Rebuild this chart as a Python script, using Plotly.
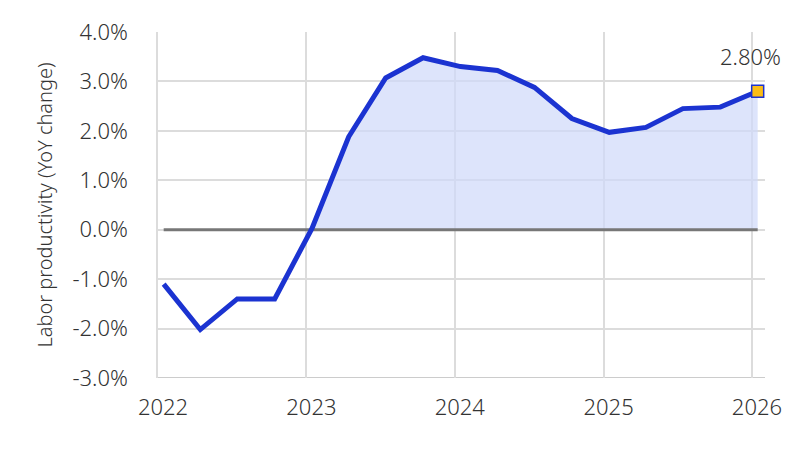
import plotly.graph_objects as go
import numpy as np

dates = ["2022-01-15", "2022-04-15", "2022-07-15", "2022-10-15",
         "2023-01-15", "2023-04-15", "2023-07-15", "2023-10-15",
         "2024-01-15", "2024-04-15", "2024-07-15", "2024-10-15",
         "2025-01-15", "2025-04-15", "2025-07-15", "2025-10-15",
         "2026-01-15"]
productivity = [-1.10, -2.02, -1.40, -1.40,
                0.03, 1.88, 3.07, 3.48,
                3.30, 3.22, 2.88, 2.25,
                1.97, 2.07, 2.45, 2.48,
                2.80]
tick_vals = ["2022-01-01", "2023-01-01", "2024-01-01", "2025-01-01", "2026-01-01"]
tick_text = ["2022", "2023", "2024", "2025", "2026"]
y_ticks = [-3, -2, -1, 0, 1, 2, 3, 4]
y_tick_text = ["-3.0%", "-2.0%", "-1.0%", "0.0%", "1.0%", "2.0%", "3.0%", "4.0%"]
y_title = "Labor productivity (YoY change)"
last_label = f"{productivity[-1]:.2f}%"

FONT = "Noto Sans"
TXT = "#333333"
BLUE = "#1b33d1"

fig = go.Figure()

# positive fill area
fig.add_trace(go.Scatter(
    x=dates, y=np.maximum(productivity, 0), mode="lines",
    line=dict(width=0), fill="tozeroy", fillcolor="rgba(208,217,250,0.72)",
    hoverinfo="skip", showlegend=False))

# zero line
fig.add_trace(go.Scatter(
    x=[dates[0], dates[-1]], y=[0, 0], mode="lines",
    line=dict(color="#777777", width=3), hoverinfo="skip", showlegend=False))

# main line
fig.add_trace(go.Scatter(
    x=dates, y=productivity, mode="lines",
    line=dict(color=BLUE, width=5), showlegend=False))

# last point marker
fig.add_trace(go.Scatter(
    x=[dates[-1]], y=[productivity[-1]], mode="markers",
    marker=dict(symbol="square", size=12, color="#fbbd15",
                line=dict(color=BLUE, width=1.5)),
    showlegend=False))

fig.add_annotation(x=dates[-1], y=productivity[-1], text=last_label,
                   showarrow=False, xanchor="center", yanchor="bottom",
                   xshift=-7, yshift=18,
                   font=dict(family=FONT, size=22, color=TXT, weight=300))

fig.update_layout(
    width=800, height=450,
    margin=dict(l=150, r=43, t=24, b=80, autoexpand=False),
    paper_bgcolor="white", plot_bgcolor="white",
    font=dict(family=FONT, size=22, color=TXT, weight=300),
    xaxis=dict(
        type="date", range=["2022-01-01", "2026-02-02"],
        tickvals=tick_vals, ticktext=tick_text,
        showgrid=True, gridcolor="#dcdcdc", gridwidth=1.5,
        showline=False, zeroline=False,
        ticks="", ticklabelstandoff=14, ticklabelshift=5,
        tickfont=dict(family=FONT, size=22, color=TXT, weight=300)),
    yaxis=dict(
        range=[-3, 4], tickvals=y_ticks, ticktext=y_tick_text,
        showgrid=True, gridcolor="#dcdcdc", gridwidth=1.5,
        zeroline=False, showline=True, linecolor="#dcdcdc", linewidth=1.5,
        ticks="", ticklabelstandoff=24,
        tickfont=dict(family=FONT, size=22, color=TXT, weight=300),
        title=dict(text=y_title, standoff=14,
                   font=dict(family=FONT, size=20, color=TXT, weight=300))),
)

fig.add_shape(type="line", xref="paper", yref="y", x0=0, x1=1, y0=-3, y1=-3,
              line=dict(color="#cccccc", width=2), layer="below")

fig.write_html("out.html")
